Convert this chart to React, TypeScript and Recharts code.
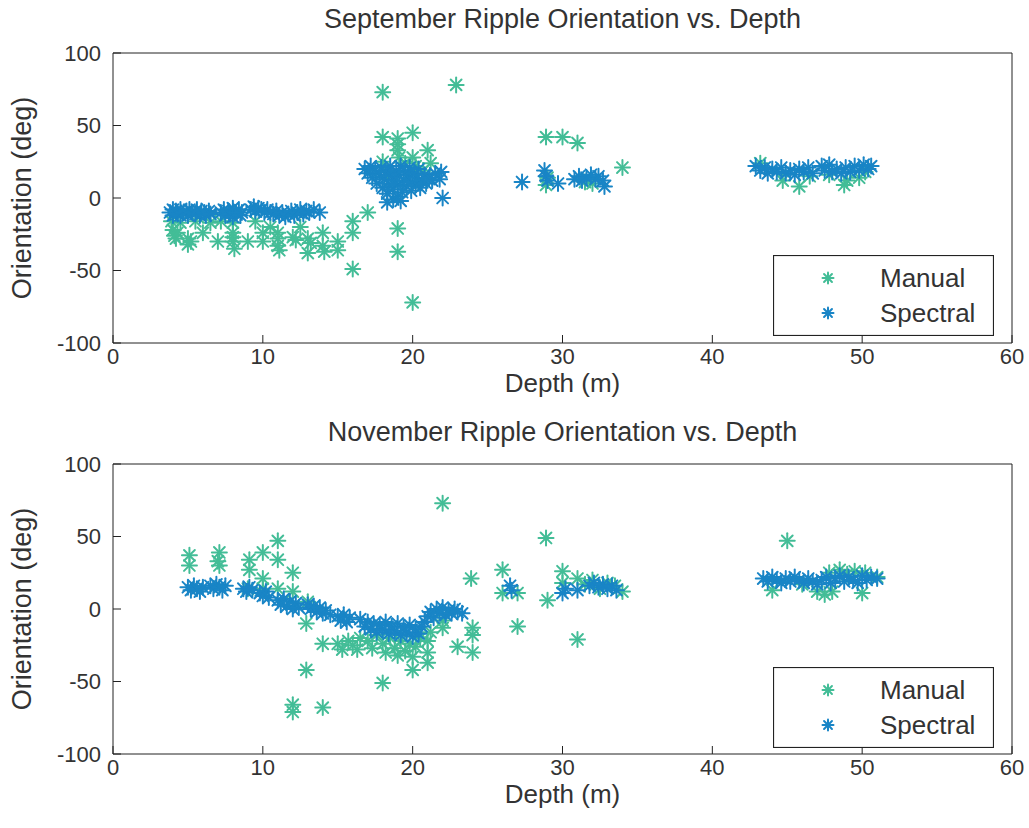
import React from "react";
import {
  ScatterChart,
  Scatter,
  XAxis,
  YAxis,
  Legend,
} from "recharts";

// [depth (m), orientation (deg)]
const sepManual: [number, number][] = [
  [3.9, -16], [4.0, -22], [4.1, -26], [4.2, -28], [4.3, -24], [4.5, -17], [5.0, -28], [5.0, -32],
  [5.2, -30], [5.5, -16], [6.0, -24], [6.5, -17], [7.0, -30], [7.2, -16], [8.0, -17], [8.0, -24],
  [8.0, -30], [8.1, -35], [8.0, -27], [9.0, -30], [9.5, -16], [10.0, -24], [10.0, -30], [10.5, -20],
  [11.0, -24], [11.0, -28], [11.0, -33], [11.1, -36], [12.0, -27], [12.2, -29], [12.5, -20], [13.0, -28],
  [13.0, -38], [13.2, -31], [14.0, -24], [14.0, -33], [14.1, -37], [15.0, -30], [15.0, -36], [16.0, -16],
  [16.0, -24], [16.0, -49], [17.0, -10], [18.0, 73], [18.0, 42], [18.0, 25], [18.3, 18], [19.0, 41],
  [19.0, 37], [19.0, 33], [19.1, 28], [19.0, -21], [19.0, -37], [19.5, 24], [20.0, 45], [20.0, 28],
  [20.2, 22], [20.0, -72], [21.0, 33], [21.2, 24], [20.7, 19], [22.9, 78], [28.9, 42], [30.0, 42],
  [31.0, 38], [28.9, 9], [29.0, 14], [31.5, 11], [32.0, 10], [34.0, 21], [44.7, 12], [43.2, 24],
  [45.8, 8], [46.5, 15], [48.8, 9], [49.0, 12], [49.8, 14], [47.8, 16], [50.2, 18],
];

const sepSpectral: [number, number][] = [
  [3.8, -10], [4.0, -8], [4.0, -12], [4.2, -9], [4.3, -11], [4.5, -8], [4.5, -12], [4.7, -10],
  [4.9, -9], [5.0, -12], [5.1, -8], [5.3, -10], [5.5, -11], [5.6, -8], [5.8, -12], [5.9, -9],
  [6.1, -10], [6.2, -12], [6.4, -9], [6.5, -11],
  [7.2, -10], [7.4, -8], [7.5, -12], [7.7, -9], [7.8, -11], [8.0, -7], [8.0, -13], [8.2, -10],
  [8.4, -8], [8.5, -12], [8.6, -10],
  [9.2, -8], [9.4, -6], [9.5, -9], [9.7, -7], [9.9, -8], [10.1, -10], [10.3, -8], [10.5, -10],
  [10.7, -11], [10.9, -9], [11.1, -12], [11.3, -10], [11.5, -13], [11.7, -11], [11.9, -9], [12.1, -12],
  [12.3, -10], [12.5, -8], [12.7, -11], [12.9, -9], [13.1, -10], [13.4, -8], [13.8, -10],
  [16.8, 20], [17.0, 17], [17.2, 22], [17.3, 14], [17.5, 19], [17.6, 10], [17.8, 16], [17.9, 21],
  [18.0, 7], [18.1, 13], [18.2, 18], [18.3, 3], [18.4, 10], [18.5, 22], [18.6, 15], [18.7, 6],
  [18.8, 12], [18.9, 19], [19.0, 1], [19.0, 9], [19.1, 16], [19.2, 22], [19.3, 4], [19.4, 12],
  [19.5, 18], [19.6, 8], [19.7, 14], [19.8, 21], [19.9, 5], [20.0, 11], [20.1, 17], [20.2, 9],
  [20.3, 14], [20.4, 20], [20.5, 7], [20.6, 12], [20.8, 16], [20.9, 10], [21.1, 14], [21.3, 12],
  [21.5, 17], [21.8, 13], [22.0, 0], [21.9, 18], [18.3, -3], [18.7, -1], [19.2, -2],
  [27.3, 11], [28.8, 19], [28.9, 15], [29.0, 12], [29.7, 10], [30.8, 13], [31.1, 15], [31.3, 12],
  [31.6, 14], [31.9, 16], [32.2, 13], [32.4, 15], [32.7, 12], [32.8, 8],
  [42.9, 22], [43.2, 19], [43.5, 21], [43.7, 17], [44.0, 20], [44.3, 18], [44.6, 21], [44.9, 17],
  [45.2, 19], [45.5, 16], [45.8, 20], [46.1, 18], [46.4, 21], [46.7, 17], [47.3, 22], [47.5, 19],
  [47.8, 23], [48.0, 18], [48.3, 20], [48.6, 17], [48.9, 21], [49.2, 18], [49.5, 22], [49.8, 19],
  [50.1, 23], [50.4, 20], [50.6, 22],
];

const novManual: [number, number][] = [
  [5.1, 37], [5.1, 30], [7.1, 39], [7.1, 30], [7.0, 33], [9.1, 34], [9.1, 27], [9.0, 14],
  [10.0, 39], [10.0, 21], [10.0, 14], [11.0, 47], [11.0, 34], [11.0, 14], [12.0, 25], [12.0, 12],
  [12.0, -66], [12.0, -71], [12.9, -10], [12.9, -42], [13.0, 5], [14.0, -24], [14.0, -68], [15.0, -24],
  [15.3, -28], [15.7, -22], [16.0, -25], [16.3, -28], [16.5, -20], [17.0, -22], [17.3, -27], [17.6, -18],
  [18.0, -51], [18.0, -24], [18.2, -30], [18.5, -20], [18.8, -27], [19.0, -32], [19.2, -22], [19.5, -29],
  [19.8, -24], [20.0, -42], [20.0, -33], [20.2, -26], [20.5, -20], [21.0, -37], [21.0, -30], [21.0, -22],
  [21.2, -16], [22.0, 73], [22.0, -13], [22.0, -8], [23.0, -26], [23.9, 21], [24.0, -13], [24.0, -18],
  [24.0, -30], [26.0, 27], [26.0, 11], [27.0, 11], [27.0, -12], [28.9, 49], [29.0, 6], [30.0, 26],
  [30.0, 18], [31.0, 21], [31.0, -21], [31.5, 17], [32.0, 20], [32.5, 14], [33.0, 18], [34.0, 12],
  [33.5, 16], [44.0, 13], [45.0, 47], [46.0, 17], [47.0, 12], [47.5, 10], [47.8, 25], [48.0, 12],
  [48.5, 27], [49.0, 24], [49.5, 26], [50.0, 11], [50.2, 25], [51.0, 22],
];

const novSpectral: [number, number][] = [
  [5.0, 15], [5.2, 13], [5.4, 16], [5.6, 14], [5.8, 12], [6.0, 15], [6.5, 16], [6.7, 14],
  [6.9, 17], [7.1, 15], [7.3, 13], [7.5, 16], [8.7, 14], [8.9, 12], [9.1, 15], [9.3, 13],
  [9.8, 11], [10.0, 9], [10.2, 12], [10.4, 8], [11.0, 6], [11.2, 3], [11.4, 7], [11.6, 2],
  [11.8, 5], [12.0, 0], [12.2, 4], [12.4, 1], [13.0, 3], [13.2, 0], [13.4, 2], [13.6, -2],
  [13.8, 1], [14.0, -3], [14.2, -1], [14.5, -4], [15.0, -5], [15.2, -8], [15.4, -4], [15.6, -9],
  [15.8, -6], [16.5, -7], [16.8, -12], [17.0, -9], [17.2, -14], [17.4, -10], [17.6, -16], [17.8, -11],
  [18.0, -14], [18.2, -9], [18.4, -17], [18.6, -12], [18.8, -15], [19.0, -10], [19.2, -18], [19.4, -13],
  [19.6, -16], [19.8, -11], [20.0, -19], [20.2, -14], [20.4, -17], [20.6, -12], [20.8, -9], [21.0, -5],
  [21.2, -2], [21.4, -6], [21.6, 0], [21.8, -3], [22.0, 1], [22.2, -4], [22.4, -1], [22.6, -3],
  [22.8, 0], [23.0, -2], [23.3, -3],
  [26.5, 16], [26.6, 13], [30.0, 11], [30.2, 14], [31.0, 13], [31.8, 16], [32.1, 18], [32.4, 15],
  [32.7, 17], [33.0, 14], [33.3, 16], [33.6, 13],
  [43.4, 21], [43.7, 19], [44.0, 22], [44.3, 20], [44.6, 18], [44.9, 21], [45.2, 19], [45.5, 22],
  [45.8, 20], [46.1, 18], [46.4, 21], [46.7, 19], [47.0, 17], [47.3, 20], [47.6, 22], [47.9, 18],
  [48.2, 21], [48.5, 23], [48.8, 19], [49.1, 22], [49.4, 20], [49.7, 18], [50.0, 23], [50.3, 20],
  [50.6, 22], [51.0, 21],
];

const depthTicks = [0, 10, 20, 30, 40, 50, 60];
const degTicks = [-100, -50, 0, 50, 100];

const MANUAL = "#43bd97";
const SPECTRAL = "#1985c6";
const FONT = "'Liberation Sans', Arial, sans-serif";
const TEXT = "#333";
const AXIS = "#222";

const toPoints = (rows: [number, number][]) =>
  rows.map(([depth, deg]) => ({ depth, deg }));

function star(cx: number, cy: number, color: string, r = 7.5) {
  const d = r * 0.72;
  return (
    <g stroke={color} strokeWidth={2} strokeLinecap="round">
      <line x1={cx - r} y1={cy} x2={cx + r} y2={cy} />
      <line x1={cx} y1={cy - r} x2={cx} y2={cy + r} />
      <line x1={cx - d} y1={cy - d} x2={cx + d} y2={cy + d} />
      <line x1={cx - d} y1={cy + d} x2={cx + d} y2={cy - d} />
    </g>
  );
}

const starShape = (color: string) => (props: any) => star(props.cx, props.cy, color);

function LegendBox(props: any) {
  const items = (props.payload || []).length
    ? props.payload
    : [
        { value: "Manual", color: MANUAL },
        { value: "Spectral", color: SPECTRAL },
      ];
  return (
    <svg width={221} height={81} style={{ display: "block" }}>
      <rect x={0.5} y={0.5} width={220} height={80} fill="#fff" stroke={AXIS} strokeWidth={1.2} />
      {items.map((it: any, i: number) => (
        <g key={it.value}>
          {star(55, 23 + i * 35, it.color, 5.5)}
          <text x={107} y={32 + i * 35} fontSize={26} fill={TEXT} fontFamily={FONT}>
            {it.value}
          </text>
        </g>
      ))}
    </svg>
  );
}

interface PanelProps {
  title: string;
  manual: [number, number][];
  spectral: [number, number][];
  marginTop: number;
  marginBottom: number;
  titleOffset: number;
  xLabelOffset: number;
  legendTop: number;
}

function RipplePanel(p: PanelProps) {
  const tickStyle = { fontSize: 22, fill: TEXT, fontFamily: FONT };
  return (
    <ScatterChart
      width={1029}
      height={414}
      margin={{ top: p.marginTop, right: 16, bottom: p.marginBottom, left: 53 }}
    >
      <XAxis
        xAxisId="main"
        type="number"
        dataKey="depth"
        domain={[0, 60]}
        ticks={depthTicks}
        interval={0}
        height={40}
        tickSize={-8}
        tickMargin={13}
        stroke={AXIS}
        tick={tickStyle}
        label={{
          value: "Depth (m)",
          position: "bottom",
          offset: p.xLabelOffset,
          fontSize: 26,
          fill: TEXT,
          fontFamily: FONT,
        }}
      />
      <XAxis
        xAxisId="top"
        orientation="top"
        type="number"
        domain={[0, 60]}
        ticks={depthTicks}
        interval={0}
        height={1}
        tickSize={-8}
        tick={false}
        stroke={AXIS}
        label={{
          value: p.title,
          position: "top",
          offset: p.titleOffset,
          fontSize: 27,
          fill: TEXT,
          fontFamily: FONT,
        }}
      />
      <YAxis
        yAxisId="main"
        type="number"
        dataKey="deg"
        domain={[-100, 100]}
        ticks={degTicks}
        interval={0}
        width={60}
        tickSize={-8}
        tickMargin={20}
        stroke={AXIS}
        tick={tickStyle}
        label={{
          content: (lp: any) => {
            const vb = lp.viewBox || { y: 0, height: 0 };
            const cy = vb.y + vb.height / 2;
            return (
              <text
                x={22}
                y={cy}
                transform={`rotate(-90 22 ${cy})`}
                textAnchor="middle"
                dominantBaseline="central"
                fontSize={27}
                fill={TEXT}
                fontFamily={FONT}
              >
                Orientation (deg)
              </text>
            );
          },
        }}
      />
      <YAxis
        yAxisId="right"
        orientation="right"
        type="number"
        domain={[-100, 100]}
        ticks={degTicks}
        interval={0}
        width={1}
        tickSize={-8}
        tick={false}
        stroke={AXIS}
      />
      <Scatter
        name="Manual"
        xAxisId="main"
        yAxisId="main"
        data={toPoints(p.manual)}
        fill={MANUAL}
        shape={starShape(MANUAL)}
        isAnimationActive={false}
      />
      <Scatter
        name="Spectral"
        xAxisId="main"
        yAxisId="main"
        data={toPoints(p.spectral)}
        fill={SPECTRAL}
        shape={starShape(SPECTRAL)}
        isAnimationActive={false}
      />
      <Legend
        layout="vertical"
        align="center"
        verticalAlign="middle"
        wrapperStyle={{ left: 773, top: p.legendTop, width: 221, height: 81 }}
        content={LegendBox}
      />
    </ScatterChart>
  );
}

export default function App() {
  return (
    <div
      style={{
        position: "absolute",
        left: 0,
        top: 0,
        width: 1029,
        height: 828,
        background: "#fff",
      }}
    >
      <RipplePanel
        title="September Ripple Orientation vs. Depth"
        manual={sepManual}
        spectral={sepSpectral}
        marginTop={52}
        marginBottom={31}
        titleOffset={24}
        xLabelOffset={-9}
        legendTop={255}
      />
      <RipplePanel
        title="November Ripple Orientation vs. Depth"
        manual={novManual}
        spectral={novSpectral}
        marginTop={49}
        marginBottom={34}
        titleOffset={22}
        xLabelOffset={-9}
        legendTop={253}
      />
    </div>
  );
}
